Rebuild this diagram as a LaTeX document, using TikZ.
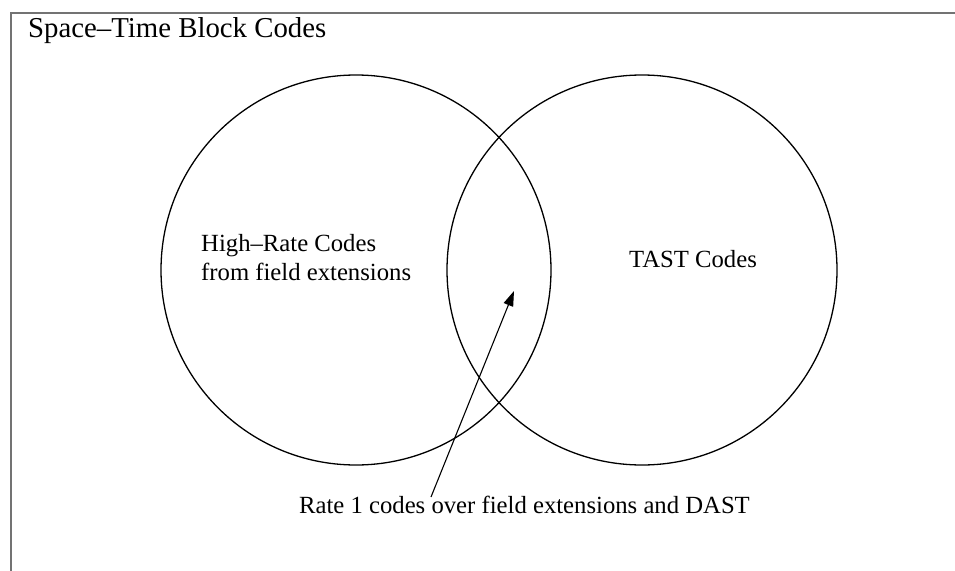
\documentclass[tikz,border=0pt]{standalone}
\usepackage{fontspec}
\setmainfont{Liberation Serif}
\usetikzlibrary{arrows.meta}
\begin{document}
\begin{tikzpicture}[x=1pt,y=-1pt,
  setcircle/.style={draw=black,line width=1.3pt,circle,minimum size=390pt,inner sep=0pt},
  lbl/.style={font=\fontsize{24.7}{27}\selectfont,inner sep=0pt},
  frameline/.style={draw=black!55,line width=2pt}]
\useasboundingbox (0,0) rectangle (955,570);
% outer frame (universe of space-time block codes)
\coordinate (tl) at (11,13);
\coordinate (tr) at (956,13);
\coordinate (bl) at (11,571);
\draw[frameline] (tr) -- (tl) -- (bl);
\node[lbl,anchor=base west,font=\fontsize{28.8}{32}\selectfont] (title) at (28,37) {Space--Time Block Codes};
% the two sets
\node[setcircle] (left) at (356,270) {};
\node[setcircle] (right) at (642,270) {};
\node[lbl,anchor=base west] (hr) at (201,251) {High--Rate Codes};
\node[lbl,anchor=base west] (hr2) at (201,280) {from field extensions};
\node[lbl,anchor=base west] (tast) at (629,267) {TAST Codes};
% intersection label and arrow
\node[lbl,anchor=base east] (rate) at (750,513) {Rate 1 codes over field extensions and DAST};
\coordinate (tip) at (514,291);
\coordinate (tail) at (431,497);
\draw[line width=1.1pt,-{Triangle[length=15pt,width=10pt]}] (tail) -- (tip);
\end{tikzpicture}
\end{document}
